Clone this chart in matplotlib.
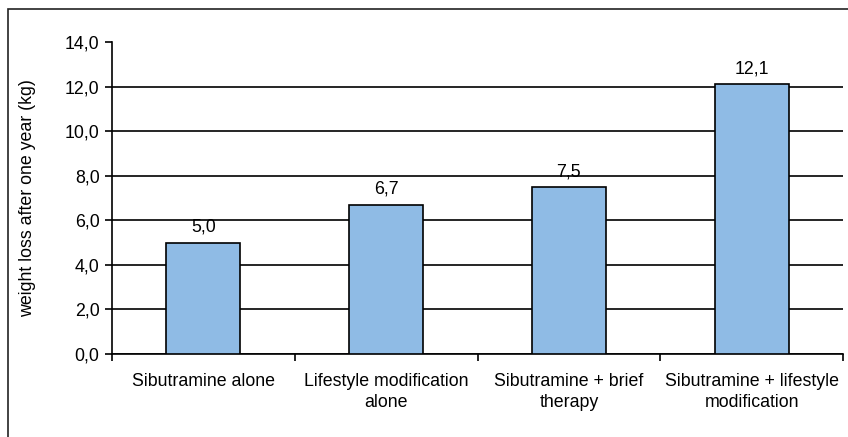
import matplotlib.pyplot as plt
import matplotlib.patches as mpatches
import numpy as np

plt.rcParams['font.family'] = ['Liberation Sans', 'DejaVu Sans']

categories = ['Sibutramine alone', 'Lifestyle modification\nalone',
              'Sibutramine + brief\ntherapy', 'Sibutramine + lifestyle\nmodification']
values = [5.0, 6.7, 7.5, 12.1]
y_ticks = [0, 2, 4, 6, 8, 10, 12, 14]

BAR_COLOR = '#8fbbe5'
FS = 12.8


def comma(v: float) -> str:
    return f'{v:.1f}'.replace('.', ',')


fig = plt.figure(figsize=(8.48, 4.37), dpi=100)
ax = fig.add_axes([112 / 848, 1 - 354 / 437, (843 - 112) / 848, (354 - 42) / 437])

# outer chart frame (top/left edges only visible in crop)
fig.patches.append(mpatches.Rectangle(
    (8 / 848, -0.5), 1.5, 1.5 - 9 / 437, transform=fig.transFigure,
    fill=False, edgecolor='#222222', linewidth=1.2))

x = np.arange(len(values))
bars = ax.bar(x, values, width=0.405, color=BAR_COLOR, edgecolor='black',
              linewidth=1.2, zorder=3)

for xi, v in zip(x, values):
    ax.text(xi, v + 0.3, comma(v), ha='center', va='bottom', fontsize=FS)

ax.set_xlim(-0.5, len(values) - 0.5)
ax.set_ylim(0, 14)
ax.set_yticks(y_ticks)
ax.set_yticklabels([comma(t) for t in y_ticks], fontsize=FS)
ax.set_xticks(x)
ax.set_xticklabels(categories, fontsize=FS, linespacing=1.3)
ax.tick_params(axis='x', length=0, pad=13.5)
ax.set_xticks(np.arange(len(values) + 1) - 0.5, minor=True)
ax.tick_params(axis='x', which='minor', length=5, width=1.2, direction='out')
ax.tick_params(axis='y', length=5, width=1.2, direction='out', pad=4)

ax.yaxis.grid(True, color='black', linewidth=1.2, zorder=0)
ax.set_axisbelow(True)
ax.get_ygridlines()[-1].set_visible(False)

for side in ['top', 'right']:
    ax.spines[side].set_visible(False)
for side in ['left', 'bottom']:
    ax.spines[side].set_linewidth(1.2)

ax.set_ylabel('weight loss after one year (kg)', fontsize=FS, va='center')
ax.yaxis.set_label_coords(-0.116, 0.5)

fig.savefig('out.png', dpi=100)
